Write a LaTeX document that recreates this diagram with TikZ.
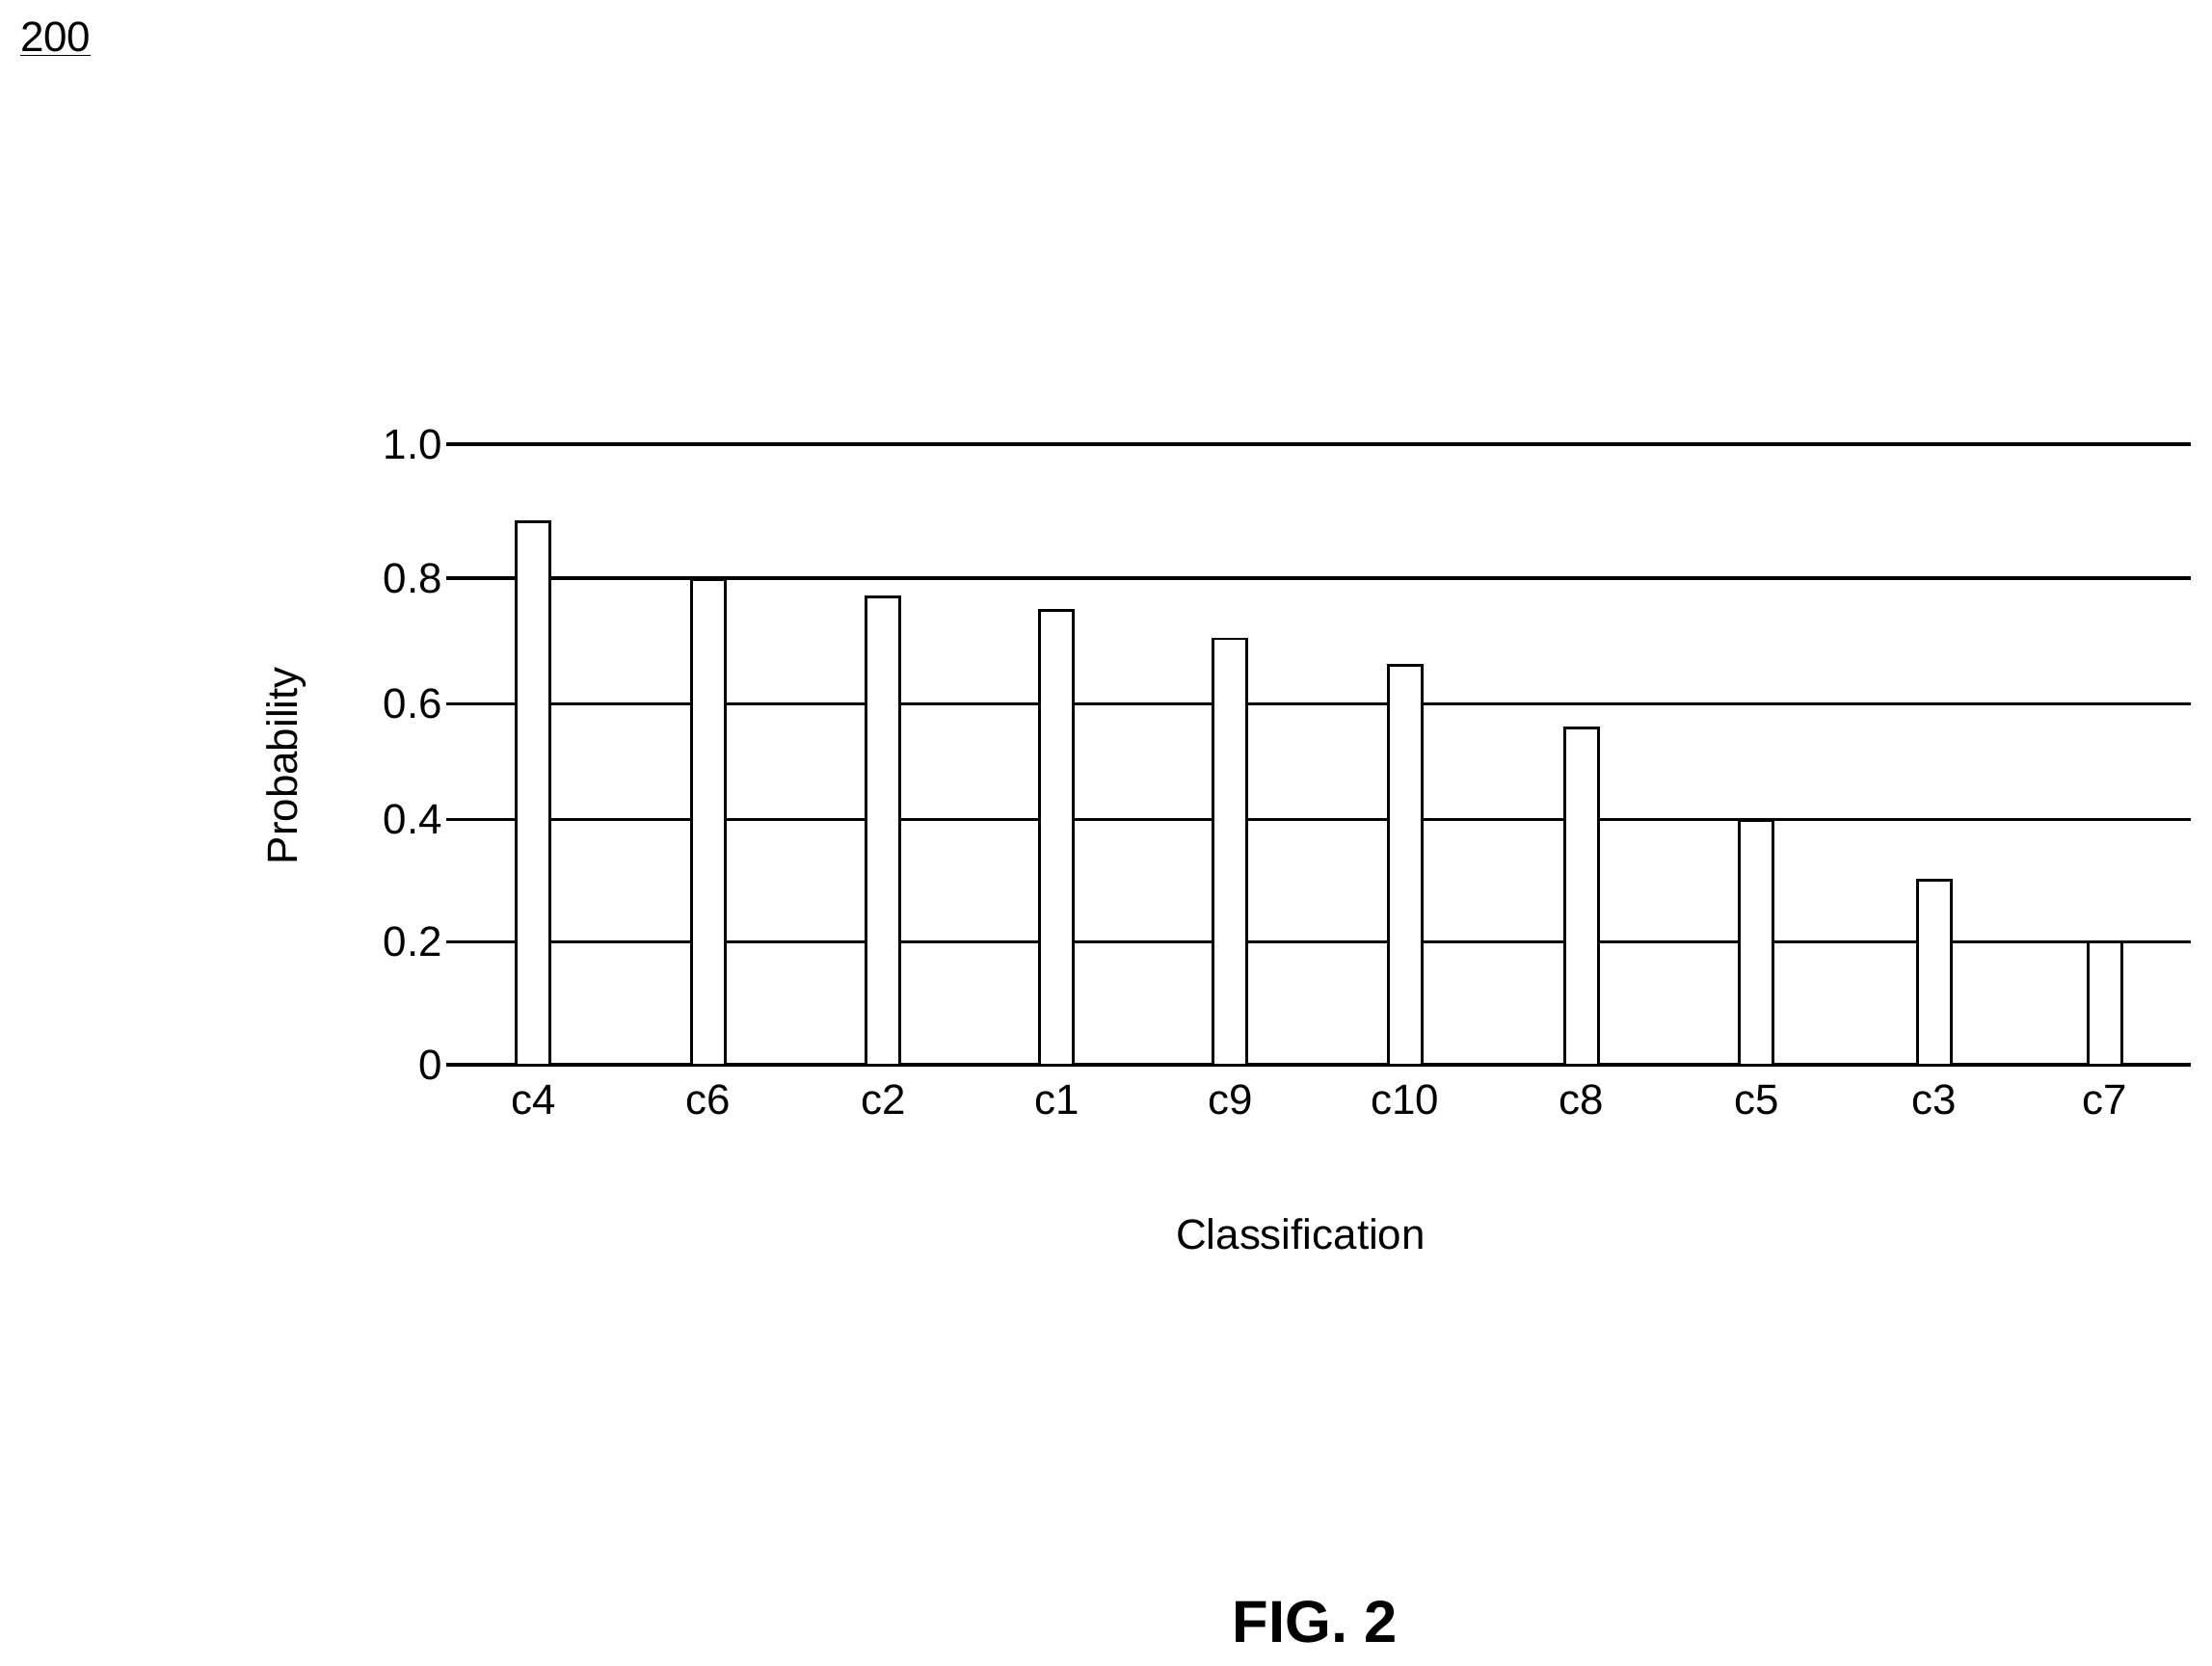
\documentclass[tikz,border=0pt]{standalone}
\usepackage{fontspec}
\setmainfont{Liberation Sans}
\begin{document}
\begin{tikzpicture}[x=0.5pt,y=-0.5pt,
  grid/.style={line width=1.1pt},
  bar/.style={draw,fill=white,line width=1pt},
  lbl/.style={font=\fontsize{15}{17}\selectfont,inner sep=0pt}]
\useasboundingbox (0,0) rectangle (1568,1181);
\node[lbl,anchor=west] (ref) at (14,28) {\underline{200}};
\foreach \v/\y in {1.0/315,0.8/410,0.6/499,0.4/581,0.2/668,0/755}{
  \draw[grid] (316,\y) -- (1553,\y);
  \node[lbl,anchor=east] at (314,\y) {\v};
}
\foreach \n/\x/\t in {c4/378/370,c6/502/411,c2/626/423,c1/749/433,c9/872/453,c10/996/472,c8/1121/516,c5/1245/582,c3/1371/624,c7/1492/668}{
  \draw[bar] (\x-12,755) rectangle (\x+12,\t);
  \node[lbl] (\n) at (\x,780) {\n};
}
\node[lbl] (xl) at (922,875) {Classification};
\node[lbl,rotate=90] (yl) at (203,543) {Probability};
\node[inner sep=0pt,font=\fontsize{21}{24}\selectfont\bfseries] (fig) at (932,1150) {FIG. 2};
\end{tikzpicture}
\end{document}
